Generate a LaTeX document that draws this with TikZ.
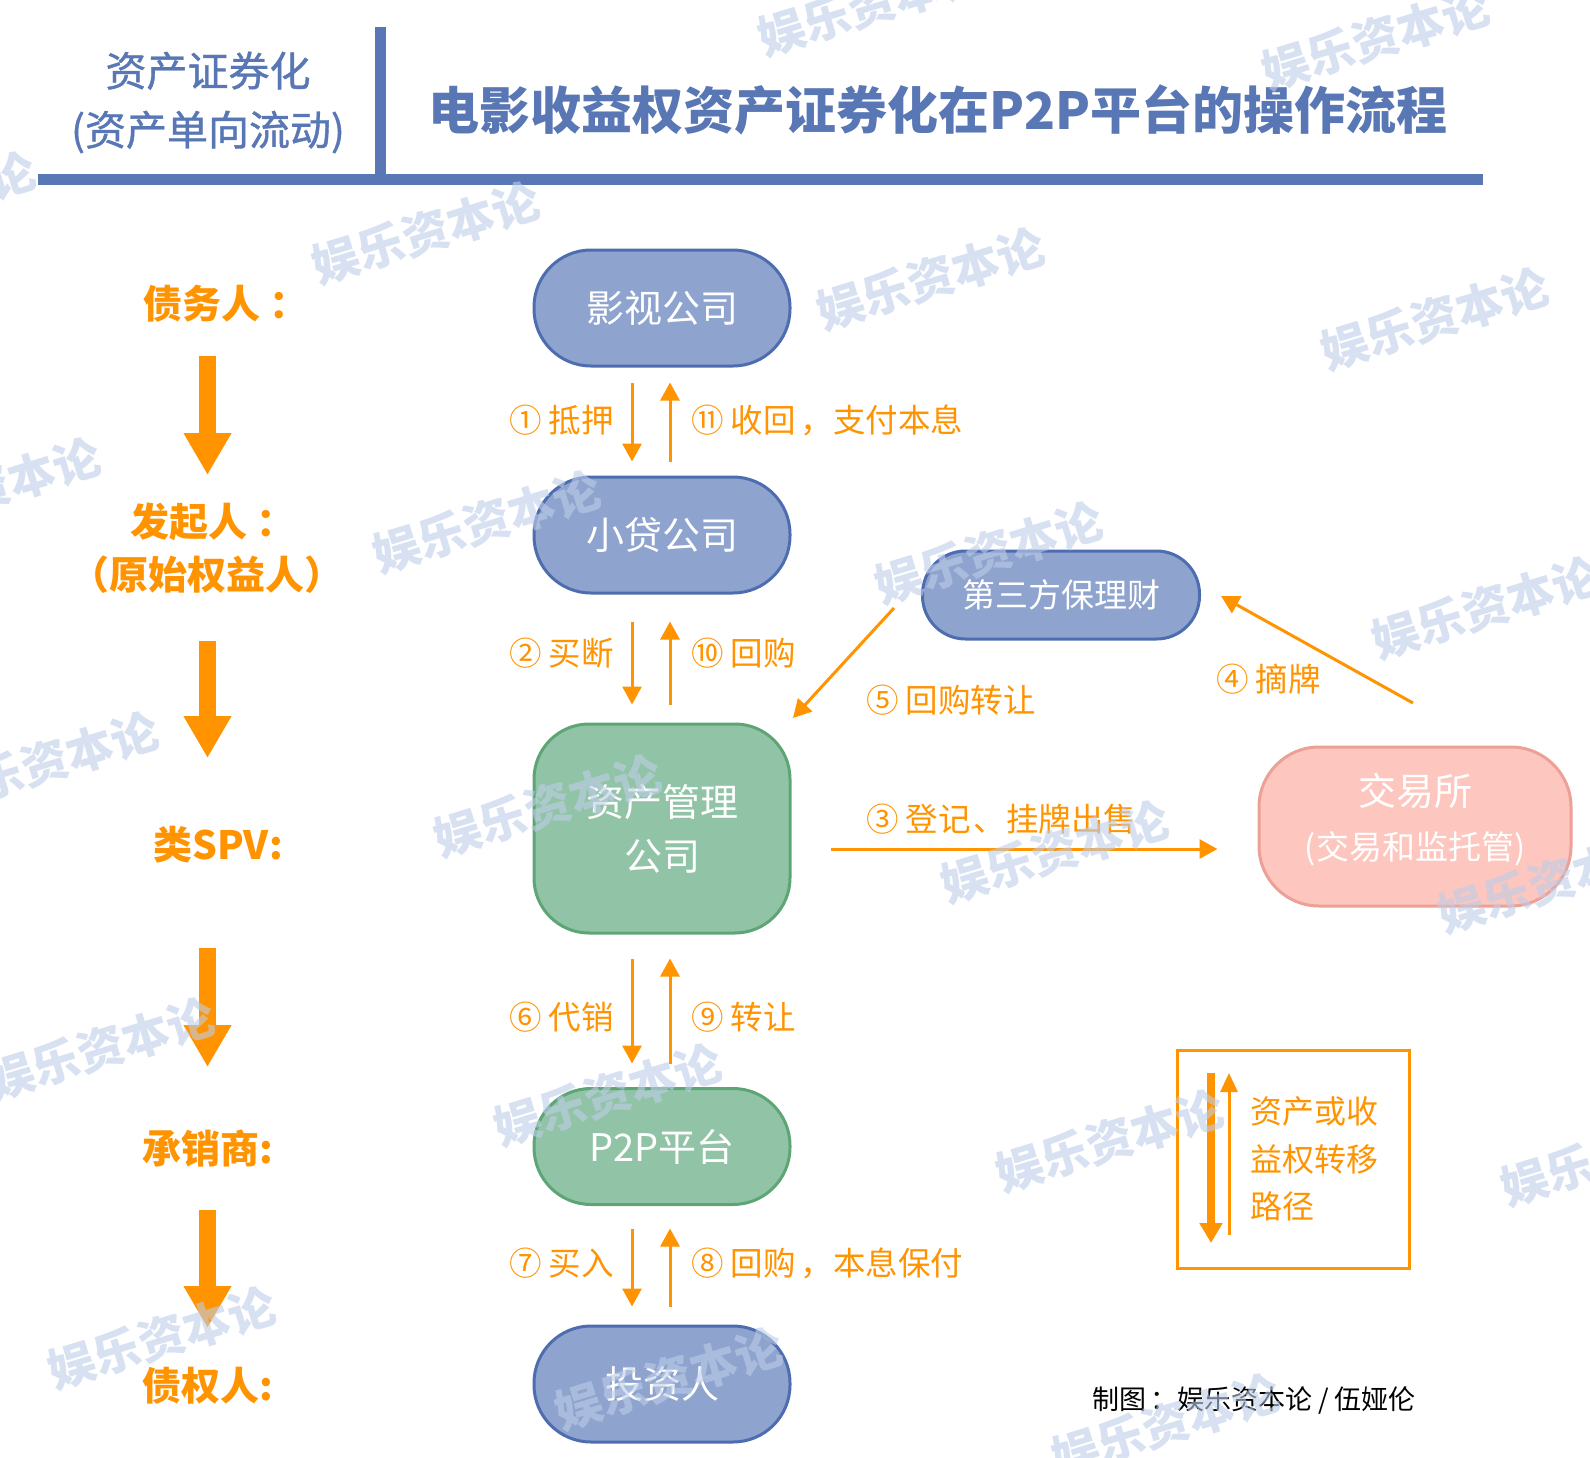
\documentclass[tikz,border=0pt]{standalone}
\usepackage{fontspec}
\setmainfont{Noto Sans CJK SC}
\newfontfamily\medfont{Noto Sans CJK SC}[FakeBold=1]
\usetikzlibrary{arrows.meta}
\definecolor{hblue}{RGB}{88,119,180}
\definecolor{org}{RGB}{255,147,0}
\definecolor{nblue}{RGB}{142,163,205}
\definecolor{nblueb}{RGB}{78,109,177}
\definecolor{ngreen}{RGB}{145,196,166}
\definecolor{ngreenb}{RGB}{94,165,118}
\definecolor{npink}{RGB}{253,198,191}
\definecolor{npinkb}{RGB}{237,160,150}
\definecolor{wm}{RGB}{190,206,232}
\newcommand\myfs[2]{\fontsize{#1}{#2}\selectfont}
\begin{document}
\begin{tikzpicture}[x=1pt,y=-1pt,
  box/.style={line width=3pt, text=white, inner sep=0pt, align=center},
  bluecap/.style={box, draw=nblueb, fill=nblue, rounded corners=57pt, minimum width=256pt, minimum height=116pt, font=\myfs{38}{40}},
  greencap/.style={box, draw=ngreenb, fill=ngreen, rounded corners=57pt, minimum width=256pt, minimum height=116pt, font=\myfs{38}{40}},
  greenbox/.style={box, draw=ngreenb, fill=ngreen, rounded corners=55pt, minimum width=256pt, minimum height=209pt, font=\myfs{38}{54}},
  pinkbox/.style={box, draw=npinkb, fill=npink, rounded corners=60pt, minimum width=312pt, minimum height=159pt},
  olab/.style={text=org, inner sep=0pt, font=\myfs{32.5}{36}},
  llab/.style={text=org, inner sep=0pt, font=\bfseries\myfs{39}{44}, align=center},
  oarr/.style={draw=org, line width=3pt, -{Triangle[length=18pt,width=19pt]}},
  bigarr/.style={draw=org, line width=17pt, -{Triangle[length=42pt,width=45pt]}},
  wmark/.style={text=wm, text opacity=0.6, rotate=17, inner sep=0pt, font=\bfseries\myfs{47}{50}}
]
\useasboundingbox (0,0) rectangle (1590,1458);
\fill[white] (0,0) rectangle (1590,1458);
\clip (0,0) rectangle (1590,1458);

% header
\node[text=hblue, inner sep=0pt, align=center, font=\medfont\myfs{41}{59}] (hl) at (208,102.5) {资产证券化\\(资产单向流动)};
\node[text=hblue, inner sep=0pt, font=\bfseries\myfs{51}{56}] (ht) at (938,110) {电影收益权资产证券化在P2P平台的操作流程};
\draw[hblue, line width=11pt] (380,27) -- (380,180);
\draw[hblue, line width=11pt] (37.5,180) -- (1482.5,180);

% left column
\node[llab, anchor=west] (L1) at (143,304) {债务人\hspace{9pt}：};
\node[llab, anchor=west] (L2) at (130,522) {发起人\hspace{9pt}：};
\node[llab] (L2b) at (207,575) {（原始权益人）};
\node[llab] (L3) at (218,845) {类SPV:};
\node[llab] (L4) at (208,1149) {承销商:};
\node[llab] (L5) at (208,1386) {债权人:};
\coordinate (a1s) at (207.5,356); \coordinate (a1e) at (207.5,475);
\coordinate (a2s) at (207.5,641); \coordinate (a2e) at (207.5,758);
\coordinate (a3s) at (207.5,948); \coordinate (a3e) at (207.5,1067);
\coordinate (a4s) at (207.5,1210); \coordinate (a4e) at (207.5,1328);
\draw[bigarr] (a1s) -- (a1e);
\draw[bigarr] (a2s) -- (a2e);
\draw[bigarr] (a3s) -- (a3e);
\draw[bigarr] (a4s) -- (a4e);

% main nodes
\node[bluecap] (ys) at (662,308) {影视公司};
\node[bluecap] (xd) at (662,535) {小贷公司};
\node[greenbox] (zc) at (662,828.5) {资产管理\\公司};
\node[greencap] (p2p) at (662,1146.5) {P2P平台};
\node[bluecap] (tz) at (662,1384) {投资人};
\node[bluecap, minimum width=277pt, minimum height=88pt, rounded corners=43pt, font=\myfs{33}{36}] (dsf) at (1061,595) {第三方保理财};
\node[pinkbox] (jys) at (1415,826.5) {};
\node[text=white, inner sep=0pt, align=center, font=\myfs{38}{54}] (jyst) at ([yshift=7pt]jys.center) {交易所\\{\myfs{33}{54}(交易和监托管)}};

% vertical arrows
\draw[oarr, shorten <=15pt, shorten >=14pt] ([xshift=-30pt]ys.south) -- ([xshift=-30pt]xd.north);
\draw[oarr, shorten <=14pt, shorten >=15pt] ([xshift=8pt]xd.north) -- ([xshift=8pt]ys.south);
\draw[oarr, shorten <=27pt, shorten >=18pt] ([xshift=-30pt]xd.south) -- ([xshift=-30pt]zc.north);
\draw[oarr, shorten <=18pt, shorten >=27pt] ([xshift=8pt]zc.north) -- ([xshift=8pt]xd.south);
\draw[oarr, shorten <=24pt, shorten >=23.5pt] ([xshift=-30pt]zc.south) -- ([xshift=-30pt]p2p.north);
\draw[oarr, shorten <=23.5pt, shorten >=24pt] ([xshift=8pt]p2p.north) -- ([xshift=8pt]zc.south);
\draw[oarr, shorten <=22.5pt, shorten >=18pt] ([xshift=-30pt]p2p.south) -- ([xshift=-30pt]tz.north);
\draw[oarr, shorten <=18pt, shorten >=22.5pt] ([xshift=8pt]tz.north) -- ([xshift=8pt]p2p.south);

% labels
\node[olab, anchor=east] (l1) at (614,420) {① 抵押};
\node[olab, anchor=west] (l11) at (691,420) {⑪ 收回\hspace{5pt}，支付本息};
\node[olab, anchor=east] (l2) at (614,653) {② 买断};
\node[olab, anchor=west] (l10) at (691,653) {⑩ 回购};
\node[olab, anchor=east] (l6) at (614,1017) {⑥ 代销};
\node[olab, anchor=west] (l9) at (691,1017) {⑨ 转让};
\node[olab, anchor=east] (l7) at (614,1263) {⑦ 买入};
\node[olab, anchor=west] (l8) at (691,1263) {⑧ 回购\hspace{5pt}，本息保付};
\node[olab, anchor=west] (l5) at (866,700) {⑤ 回购转让};
\node[olab, anchor=west] (l4) at (1216,679) {④ 摘牌};
\node[olab, anchor=west] (l3) at (866,819) {③ 登记\hspace{3pt}、挂牌出售};

% side arrows
\coordinate (c5a) at (894,608); \coordinate (c5b) at (793,718);
\coordinate (c4a) at (1413,703); \coordinate (c4b) at (1221,596);
\draw[oarr] (c5a) -- (c5b);
\draw[oarr] (c4a) -- (c4b);
\draw[oarr, shorten <=39pt, shorten >=40pt] ([yshift=-22.5pt]jys.west -| zc.east) -- ([yshift=-22.5pt]jys.west);

% legend
\node[draw=org, line width=3pt, minimum width=232pt, minimum height=218pt, inner sep=0pt] (leg) at (1293,1159.5) {};
\coordinate (g1s) at (1211,1073); \coordinate (g1e) at (1211,1243);
\coordinate (g2s) at (1229,1235); \coordinate (g2e) at (1229,1073);
\draw[draw=org, line width=8pt, -{Triangle[length=20pt,width=22pt]}] (g1s) -- (g1e);
\draw[oarr, -{Triangle[length=19pt,width=17pt]}] (g2s) -- (g2e);
\node[olab, anchor=west, align=left, font=\myfs{32}{47.5}] (legt) at (1250,1159) {资产或收\\益权转移\\路径};

% credit
\node[inner sep=0pt, font=\myfs{27}{30}] (cr) at (1254,1400) {制图\hspace{4pt}：娱乐资本论 / 伍娅伦};

% watermarks
\foreach \i/\x/\y in {1/872/5, 2/1376/39, 3/-78/203, 4/426/233, 5/931/279, 6/1435/319, 7/-13/489, 8/487/522, 9/989/553, 10/1486/608, 11/45/763, 12/548/806, 13/1055/852, 14/1552/882, 15/101/1049, 16/608/1095, 17/1110/1141, 18/1615/1155, 19/162/1338, 20/669/1379, 21/1166/1425}
  \node[wmark] (wm\i) at (\x,\y) {娱乐资本论};
\end{tikzpicture}
\end{document}
